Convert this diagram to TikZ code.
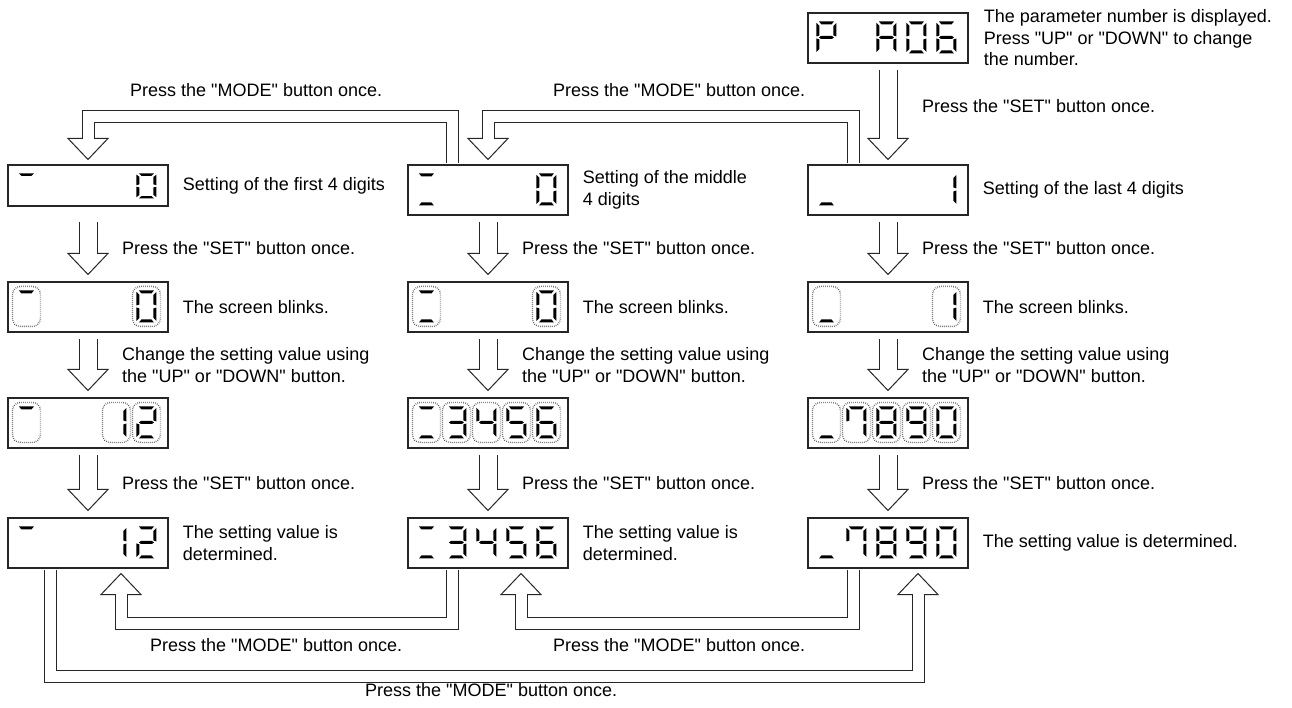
\documentclass[tikz,border=0pt]{standalone}
\usepackage{fontspec}
\setmainfont{Liberation Sans}[Ligatures=TeXOff]
\usetikzlibrary{calc,positioning}

% one 7-segment digit: [scope options] display node, position 0-4, lit segments
\newcommand{\segdigit}[4][]{%
  \begin{scope}[shift={($(#2.north west)+({9+30*#3},9)$)}, #1]
    \foreach \s in {#4}{%
      \if a\s \fill (2.5,0) -- (17.5,0) -- (15,3) -- (5,3) -- cycle;\fi
      \if b\s \fill (20,1.5) -- (20,15) -- (17,14) -- (17,4.5) -- cycle;\fi
      \if c\s \fill (20,17) -- (20,30.5) -- (17,27.5) -- (17,18) -- cycle;\fi
      \if d\s \fill (2.5,32) -- (17.5,32) -- (15,29) -- (5,29) -- cycle;\fi
      \if e\s \fill (0,17) -- (0,30.5) -- (3,27.5) -- (3,18) -- cycle;\fi
      \if f\s \fill (0,1.5) -- (0,15) -- (3,14) -- (3,4.5) -- cycle;\fi
      \if g\s \fill (2.5,16) -- (4.5,14.5) -- (15.5,14.5) -- (17.5,16) -- (15.5,17.5) -- (4.5,17.5) -- cycle;\fi
    }
  \end{scope}}
% blinking ring round a digit
\newcommand{\blinkhalo}[2]{%
  \draw[halo] ($(#1.north west)+({5+30*#2},5)$) rectangle ++(28,40);}

\tikzset{
  disp/.style={draw=black!85, line width=1.1pt, minimum width=160pt, minimum height=50pt, inner sep=0pt},
  lbl/.style={anchor=west, inner sep=0pt, align=left},
  shaft/.style={draw=black!85, double=white, double distance=#1, line width=1pt, line join=miter},
  shaft/.default=17pt,
  headdown/.pic={\draw[draw=black!85, line width=1pt, line join=miter, fill=white] (-20,-21) -- (0,0) -- (20,-21) -- cycle;},
  headup/.pic={\draw[draw=black!85, line width=1pt, line join=miter, fill=white] (-20,21) -- (0,0) -- (20,21) -- cycle;},
  halo/.style={draw=black!75, line width=1.4pt, dash pattern=on 0.6pt off 1.4pt, rounded corners=8pt}
}

\begin{document}
\begin{tikzpicture}[x=1pt, y=-1pt, font=\fontsize{18}{21.5}\selectfont]
    \useasboundingbox[fill=white] (0,0) rectangle (1292,708);

    % Displays
    \node[disp] (d0) at (888,38) {};
    \node[disp, minimum height=41pt] (d11) at (88,185.5) {};
    \node[disp] (d12) at (488,190) {};
    \node[disp] (d13) at (888,190) {};
    \node[disp] (d21) at (88,307) {};
    \node[disp] (d22) at (488,307) {};
    \node[disp] (d23) at (888,307) {};
    \node[disp] (d31) at (88,423) {};
    \node[disp] (d32) at (488,423) {};
    \node[disp] (d33) at (888,423) {};
    \node[disp] (d41) at (88,543) {};
    \node[disp] (d42) at (488,543) {};
    \node[disp] (d43) at (888,543) {};

    % P  A06
    \segdigit{d0}{0}{a,b,e,f,g}
    \segdigit{d0}{2}{a,b,c,e,f,g}
    \segdigit{d0}{3}{a,b,c,d,e,f}
    \segdigit{d0}{4}{a,c,d,e,f,g}

    % Row 1
    \segdigit[yscale=0.78]{d11}{0}{a}
    \segdigit[yscale=0.78]{d11}{4}{a,b,c,d,e,f}
    \segdigit{d12}{0}{a,d}
    \segdigit{d12}{4}{a,b,c,d,e,f}
    \segdigit{d13}{0}{d}
    \segdigit{d13}{4}{b,c}

    % Row 2 (blinking)
    \segdigit{d21}{0}{a}
    \segdigit{d21}{4}{a,b,c,d,e,f}
    \segdigit{d22}{0}{a,d}
    \segdigit{d22}{4}{a,b,c,d,e,f}
    \segdigit{d23}{0}{d}
    \segdigit{d23}{4}{b,c}
    \blinkhalo{d21}{0} \blinkhalo{d21}{4}
    \blinkhalo{d22}{0} \blinkhalo{d22}{4}
    \blinkhalo{d23}{0} \blinkhalo{d23}{4}

    % Row 3 (blinking)
    \segdigit{d31}{0}{a}
    \segdigit{d31}{3}{b,c}
    \segdigit{d31}{4}{a,b,d,e,g}
    \segdigit{d32}{0}{a,d}
    \segdigit{d32}{1}{a,b,c,d,g}
    \segdigit{d32}{2}{b,c,f,g}
    \segdigit{d32}{3}{a,c,d,f,g}
    \segdigit{d32}{4}{a,c,d,e,f,g}
    \segdigit{d33}{0}{d}
    \segdigit{d33}{1}{a,b,c,f}
    \segdigit{d33}{2}{a,b,c,d,e,f,g}
    \segdigit{d33}{3}{a,b,c,d,f,g}
    \segdigit{d33}{4}{a,b,c,d,e,f}
    \blinkhalo{d31}{0} \blinkhalo{d31}{3} \blinkhalo{d31}{4}
    \foreach \i in {0,...,4} {\blinkhalo{d32}{\i} \blinkhalo{d33}{\i}}

    % Row 4
    \segdigit{d41}{0}{a}
    \segdigit{d41}{3}{b,c}
    \segdigit{d41}{4}{a,b,d,e,g}
    \segdigit{d42}{0}{a,d}
    \segdigit{d42}{1}{a,b,c,d,g}
    \segdigit{d42}{2}{b,c,f,g}
    \segdigit{d42}{3}{a,c,d,f,g}
    \segdigit{d42}{4}{a,c,d,e,f,g}
    \segdigit{d43}{0}{d}
    \segdigit{d43}{1}{a,b,c,f}
    \segdigit{d43}{2}{a,b,c,d,e,f,g}
    \segdigit{d43}{3}{a,b,c,d,f,g}
    \segdigit{d43}{4}{a,b,c,d,e,f}

    % Down arrows in each column (shaft length counted back from the tip)
    \foreach \c in {1,2,3} {
        \foreach \r/\n/\len in {1/2/52,2/3/51,3/4/55} {
            \coordinate (a\n\c) at ($(d\n\c.north)+(0,-7)$);
            \pic at (a\n\c) {headdown};
            \draw[shaft] ($(a\n\c)+(0,-\len)$) -- ($(a\n\c)+(0,-20.4)$);
        }
    }

    % Parameter display to last 4 digits
    \coordinate (t0) at ($(d13.north)+(0,-5)$);
    \pic at (t0) {headdown};
    \draw[shaft] ($(d0.south)+(0,6)$) -- ($(t0)+(0,-20.4)$);

    % MODE loops on top
    \coordinate (t1) at ($(d11.north)+(0,-5)$);
    \pic at (t1) {headdown};
    \draw[shaft=11pt] ($(d12.north)+(-36,-1)$) |- ($(t1)+(0,-43)$) -- ($(t1)+(0,-20.4)$);
    \coordinate (t2) at ($(d12.north)+(0,-5)$);
    \pic at (t2) {headdown};
    \draw[shaft=11pt] ($(d13.north)+(-35,-1)$) |- ($(t2)+(0,-43)$) -- ($(t2)+(0,-20.4)$);

    % MODE loops at the bottom
    \coordinate (t3) at ($(d41.south)+(33,5)$);
    \pic at (t3) {headup};
    \draw[shaft=11pt] ($(d42.south)+(-36,1)$) |- ($(t3)+(0,50)$) -- ($(t3)+(0,20.4)$);
    \coordinate (t4) at ($(d42.south)+(33,5)$);
    \pic at (t4) {headup};
    \draw[shaft=11pt] ($(d43.south)+(-35,1)$) |- ($(t4)+(0,50)$) -- ($(t4)+(0,20.4)$);
    \coordinate (t5) at ($(d43.south)+(30,5)$);
    \pic at (t5) {headup};
    \draw[shaft=11pt] ($(d41.south)+(-38,1)$) |- ($(t5)+(0,103)$) -- ($(t5)+(0,20.4)$);

    % Texts beside the displays
    \node[lbl, right=15pt of d0] (p0) {The parameter number is displayed.\\Press "UP" or "DOWN" to change\\the number.};
    \node[lbl, right=14pt of d11] (p11) {Setting of the first 4 digits};
    \node[lbl, right=14pt of d12] (p12) {Setting of the middle\\4 digits};
    \node[lbl, right=14pt of d13] (p13) {Setting of the last 4 digits};
    \node[lbl, right=14pt of d21] (p21) {The screen blinks.};
    \node[lbl, right=14pt of d22] (p22) {The screen blinks.};
    \node[lbl, right=14pt of d23] (p23) {The screen blinks.};
    \node[lbl, right=14pt of d41] (p41) {The setting value is\\determined.};
    \node[lbl, right=14pt of d42] (p42) {The setting value is\\determined.};
    \node[lbl, right=14pt of d43] (p43) {The setting value is determined.};

    % Texts beside the arrows
    \node[lbl] (s0) at ($(d0.south)!0.42!(d13.north)+(34,0)$) {Press the "SET" button once.};
    \node[lbl] (s11) at ($(d12.south)!0.5!(d22.north)+(-366,0)$) {Press the "SET" button once.};
    \node[lbl] (s12) at ($(d12.south)!0.5!(d22.north)+(34,0)$) {Press the "SET" button once.};
    \node[lbl] (s13) at ($(d13.south)!0.5!(d23.north)+(34,0)$) {Press the "SET" button once.};
    \node[lbl] (s21) at ($(d21.south)!0.5!(d31.north)+(34,0)$) {Change the setting value using\\the "UP" or "DOWN" button.};
    \node[lbl] (s22) at ($(d22.south)!0.5!(d32.north)+(34,0)$) {Change the setting value using\\the "UP" or "DOWN" button.};
    \node[lbl] (s23) at ($(d23.south)!0.5!(d33.north)+(34,0)$) {Change the setting value using\\the "UP" or "DOWN" button.};
    \node[lbl] (s31) at ($(d31.south)!0.5!(d41.north)+(34,0)$) {Press the "SET" button once.};
    \node[lbl] (s32) at ($(d32.south)!0.5!(d42.north)+(34,0)$) {Press the "SET" button once.};
    \node[lbl] (s33) at ($(d33.south)!0.5!(d43.north)+(34,0)$) {Press the "SET" button once.};

    % MODE texts
    \node[lbl] (m1) at (130,90) {Press the "MODE" button once.};
    \node[lbl] (m2) at (553,90) {Press the "MODE" button once.};
    \node[lbl] (m3) at (150,645) {Press the "MODE" button once.};
    \node[lbl] (m4) at (553,645) {Press the "MODE" button once.};
    \node[lbl] (m5) at (365,690) {Press the "MODE" button once.};
\end{tikzpicture}
\end{document}
